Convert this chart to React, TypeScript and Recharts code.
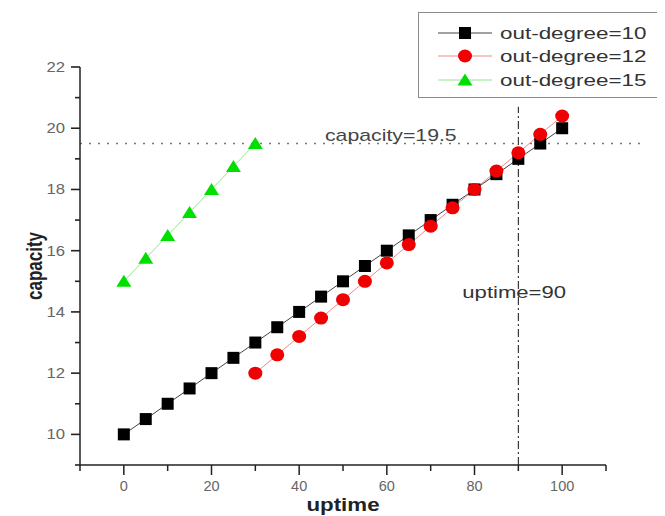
import { Legend, Line, LineChart, ReferenceLine, XAxis, YAxis } from 'recharts'

const uptime10 = [0, 5, 10, 15, 20, 25, 30, 35, 40, 45, 50, 55, 60, 65, 70, 75, 80, 85, 90, 95, 100]
const capacity10 = [10, 10.5, 11, 11.5, 12, 12.5, 13, 13.5, 14, 14.5, 15, 15.5, 16, 16.5, 17, 17.5, 18, 18.5, 19, 19.5, 20]
const uptime12 = [30, 35, 40, 45, 50, 55, 60, 65, 70, 75, 80, 85, 90, 95, 100]
const capacity12 = [12, 12.6, 13.2, 13.8, 14.4, 15, 15.6, 16.2, 16.8, 17.4, 18, 18.6, 19.2, 19.8, 20.4]
const uptime15 = [0, 5, 10, 15, 20, 25, 30]
const capacity15 = [15, 15.75, 16.5, 17.25, 18, 18.75, 19.5]

const seriesNames = ['out-degree=10', 'out-degree=12', 'out-degree=15']

const xMajorTicks = [0, 20, 40, 60, 80, 100]
const xMinorTicks = [-10, 10, 30, 50, 70, 90, 110]
const yMajorTicks = [10, 12, 14, 16, 18, 20, 22]
const yMinorTicks = [9, 11, 13, 15, 17, 19, 21]

const capacityLimit = 19.5
const uptimeMark = 90

const font = '"Liberation Sans", Arial, sans-serif'
const axisColor = '#222'
const tickTextColor = '#666'

const toPoints = (xs: number[], ys: number[]) => xs.map((x, i) => ({ uptime: x, capacity: ys[i] }))

const points10 = toPoints(uptime10, capacity10)
const points12 = toPoints(uptime12, capacity12)
const points15 = toPoints(uptime15, capacity15)

const xTicks = [...xMajorTicks, ...xMinorTicks].sort((a, b) => a - b)
const yTicks = [...yMajorTicks, ...yMinorTicks].sort((a, b) => a - b)

// origin-style plots stretch text sideways a little
function WideText({ x, y, sx, children, ...rest }: any) {
  return (
    <text transform={`translate(${x},${y}) scale(${sx},1)`} fontFamily={font} {...rest}>
      {children}
    </text>
  )
}

const Square = ({ cx, cy }: { cx: number; cy: number }) => (
  <rect x={cx - 6} y={cy - 6} width={12} height={12} fill="#000" />
)
const Dot = ({ cx, cy }: { cx: number; cy: number }) => <ellipse cx={cx} cy={cy} rx={7} ry={6.5} fill="#f00000" />
const Triangle = ({ cx, cy }: { cx: number; cy: number }) => (
  <polygon points={`${cx},${cy - 6.5} ${cx + 7.5},${cy + 5.5} ${cx - 7.5},${cy + 5.5}`} fill="#00e000" />
)

const markers = [Square, Dot, Triangle]
const lineColors = ['#444', '#f08a8a', '#8ee88e']

const renderXTick = (props: any) => {
  const { x, y, payload } = props
  const major = xMajorTicks.includes(payload.value)
  return (
    <g key={`xt-${payload.value}`}>
      <line x1={x} y1={y} x2={x} y2={y + (major ? 10 : 6)} stroke={axisColor} strokeWidth={1.5} />
      {major && (
        <text x={x} y={y + 26} textAnchor="middle" fontSize={14.5} fill={tickTextColor} fontFamily={font}>
          {payload.value}
        </text>
      )}
    </g>
  )
}

const renderYTick = (props: any) => {
  const { x, y, payload } = props
  const major = yMajorTicks.includes(payload.value)
  return (
    <g key={`yt-${payload.value}`}>
      <line x1={x} y1={y} x2={x - (major ? 9 : 5)} y2={y} stroke={axisColor} strokeWidth={1.6} />
      {major && (
        <WideText x={x - 15} y={y + 5} sx={1.15} textAnchor="end" fontSize={14.5} fill={tickTextColor}>
          {payload.value}
        </WideText>
      )}
    </g>
  )
}

const renderXLabel = ({ viewBox }: any) => (
  <WideText x={viewBox.x + viewBox.width / 2} y={viewBox.y + 46} sx={1.24} textAnchor="middle" fontSize={18} fontWeight="bold" fill="#222">
    uptime
  </WideText>
)

const renderYLabel = ({ viewBox }: any) => (
  <text
    transform={`translate(${viewBox.x + 34},${viewBox.y + viewBox.height / 2}) rotate(-90) scale(1,1.3)`}
    textAnchor="middle"
    fontSize={17}
    fontWeight="bold"
    fill="#222"
    fontFamily={font}
  >
    capacity
  </text>
)

const renderLimitLabel = ({ viewBox }: any) => (
  <WideText x={viewBox.x + 245} y={viewBox.y - 3} sx={1.25} fontSize={17} fill="#444">
    {`capacity=${capacityLimit}`}
  </WideText>
)

const renderMarkLabel = ({ viewBox }: any) => (
  <WideText x={viewBox.x - 56} y={viewBox.y + viewBox.height - 167} sx={1.3} fontSize={17} fill="#333">
    {`uptime=${uptimeMark}`}
  </WideText>
)

function LegendBox() {
  const rows = [20, 43, 67]
  return (
    <div style={{ width: 242, height: 86, boxSizing: 'border-box', border: '1.5px solid #8a8a8a', background: '#fff' }}>
      <svg width={239} height={83} style={{ display: 'block' }}>
        {seriesNames.map((name, i) => {
          const Marker = markers[i]
          const cy = rows[i]
          return (
            <g key={name}>
              <line x1={19} y1={cy} x2={73} y2={cy} stroke={lineColors[i]} strokeWidth={1} />
              <Marker cx={46} cy={cy} />
              <WideText x={81} y={cy + 6} sx={1.32} fontSize={17} fill="#333">
                {name}
              </WideText>
            </g>
          )
        })}
      </svg>
    </div>
  )
}

export default function App() {
  const seriesData = [points10, points12, points15]
  return (
    <LineChart width={657} height={508} margin={{ top: 59, right: 59, bottom: 0, left: 0 }} style={{ fontFamily: font }}>
      <XAxis
        type="number"
        dataKey="uptime"
        domain={[-10, 110]}
        ticks={xTicks}
        interval={0}
        allowDataOverflow
        tickLine={false}
        tickSize={0}
        tickMargin={0}
        tick={renderXTick}
        axisLine={{ stroke: axisColor, strokeWidth: 1.5 }}
        height={51}
        label={renderXLabel}
      />
      <YAxis
        type="number"
        dataKey="capacity"
        domain={[9, 22]}
        ticks={yTicks}
        interval={0}
        allowDataOverflow
        tickLine={false}
        tickSize={0}
        tickMargin={0}
        tick={renderYTick}
        axisLine={{ stroke: axisColor, strokeWidth: 1.5 }}
        width={72}
        label={renderYLabel}
      />
      <ReferenceLine
        segment={[
          { x: -10, y: capacityLimit },
          { x: 119, y: capacityLimit },
        ]}
        ifOverflow="visible"
        stroke="#777"
        strokeWidth={1.5}
        strokeDasharray="2 7"
        label={renderLimitLabel}
      />
      <ReferenceLine
        segment={[
          { x: uptimeMark, y: 9 },
          { x: uptimeMark, y: 20.7 },
        ]}
        ifOverflow="visible"
        stroke="#111"
        strokeWidth={1}
        strokeDasharray="8 3 2 3"
        label={renderMarkLabel}
      />
      {seriesNames.map((name, i) => {
        const Marker = markers[i]
        return (
          <Line
            key={name}
            name={name}
            data={seriesData[i]}
            dataKey="capacity"
            stroke={lineColors[i]}
            strokeWidth={1}
            dot={(p: any) => <Marker key={`${name}-${p.index}`} cx={p.cx} cy={p.cy} />}
            activeDot={false}
            isAnimationActive={false}
          />
        )
      })}
      <Legend
        layout="vertical"
        align="center"
        verticalAlign="middle"
        content={() => <LegendBox />}
        wrapperStyle={{ left: 410, top: 4, width: 242, height: 86 }}
      />
    </LineChart>
  )
}
